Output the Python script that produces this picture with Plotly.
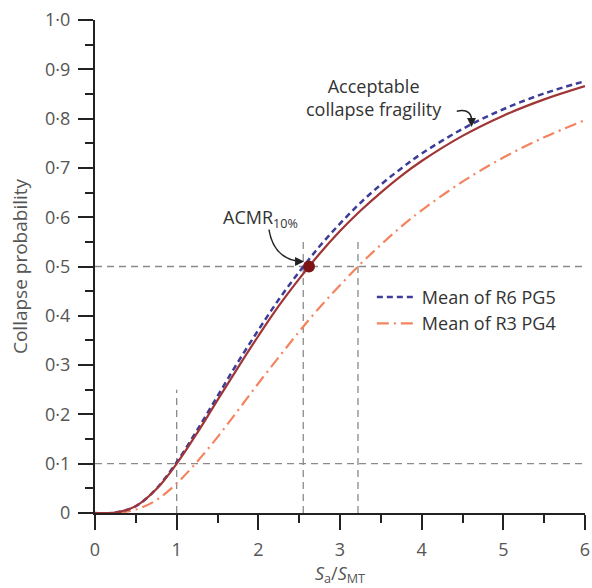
import plotly.graph_objects as go

# Data
x_vals = [0, 0.25, 0.5, 0.75, 1.0, 1.25, 1.5, 1.75, 2.0, 2.25, 2.5, 2.75, 3.0, 3.25, 3.5, 3.75, 4.0, 4.5, 5.0, 5.5, 6.0]
acceptable = [0, 0.001, 0.014, 0.048, 0.100, 0.162, 0.229, 0.295, 0.359, 0.420, 0.475, 0.526, 0.572, 0.613, 0.650, 0.684, 0.714, 0.765, 0.806, 0.839, 0.866]
r6_pg5 = [0, 0.001, 0.014, 0.049, 0.103, 0.168, 0.237, 0.306, 0.371, 0.433, 0.489, 0.541, 0.587, 0.629, 0.666, 0.699, 0.729, 0.779, 0.819, 0.851, 0.876]
r3_pg4 = [0, 0.000, 0.007, 0.026, 0.060, 0.104, 0.154, 0.208, 0.263, 0.316, 0.368, 0.417, 0.462, 0.505, 0.544, 0.581, 0.614, 0.672, 0.721, 0.762, 0.797]

acmr_x = [2.62]
acmr_y = [0.5]

ref_h = [0.1, 0.5]
ref_v_x = [1.0, 2.55, 3.22]
ref_v_top = [0.25, 0.555, 0.555]

y_ticks = [0, 0.1, 0.2, 0.3, 0.4, 0.5, 0.6, 0.7, 0.8, 0.9, 1.0]
y_ticktext = ["0", "0·1", "0·2", "0·3", "0·4", "0·5", "0·6", "0·7", "0·8", "0·9", "1·0"]
x_ticks = [0, 1, 2, 3, 4, 5, 6]
x_ticktext = ["0", "1", "2", "3", "4", "5", "6"]

FONT = "Open Sans"
GREY = "#555555"
REF = "#8a8a8a"

fig = go.Figure()

# reference dashed lines
for yv in ref_h:
    fig.add_trace(go.Scatter(x=[0, 6], y=[yv, yv], mode="lines", showlegend=False,
                             line=dict(color=REF, width=1.3, dash="7px,5px"), hoverinfo="skip"))
for xv, top in zip(ref_v_x, ref_v_top):
    fig.add_trace(go.Scatter(x=[xv, xv], y=[0, top], mode="lines", showlegend=False,
                             line=dict(color=REF, width=1.3, dash="7px,5px"), hoverinfo="skip"))

fig.add_trace(go.Scatter(x=x_vals, y=r3_pg4, mode="lines", name="Mean of R3 PG4",
                         line=dict(color="#f4845f", width=2.2, dash="12px,5px,2px,5px", shape="spline")))
fig.add_trace(go.Scatter(x=x_vals, y=r6_pg5, mode="lines", name="Mean of R6 PG5",
                         line=dict(color="#3d3d99", width=2.5, dash="6px,4px", shape="spline")))
fig.add_trace(go.Scatter(x=x_vals, y=acceptable, mode="lines", showlegend=False,
                         line=dict(color="#a03535", width=2.2, shape="spline")))
fig.add_trace(go.Scatter(x=acmr_x, y=acmr_y, mode="markers", showlegend=False,
                         marker=dict(color="#7d1214", size=12)))

# curved arrows
fig.add_shape(type="path", path="M 2.13,0.575 Q 2.19,0.515 2.52,0.51",
              line=dict(color="#222222", width=1.5))
fig.add_shape(type="path", path="M 4.43,0.815 Q 4.63,0.822 4.61,0.79",
              line=dict(color="#222222", width=1.5))
fig.add_annotation(x=2.56, y=0.51, ax=-8, ay=0, text="", showarrow=True, arrowhead=2,
                   arrowsize=1.2, arrowwidth=1.5, arrowcolor="#222222")
fig.add_annotation(x=4.61, y=0.783, ax=0, ay=-8, text="", showarrow=True, arrowhead=2,
                   arrowsize=1.2, arrowwidth=1.5, arrowcolor="#222222")

fig.add_annotation(x=2.03, y=0.598, text="ACMR<sub>10%</sub>", showarrow=False,
                   font=dict(family=FONT, size=18, color="#333333"))
fig.add_annotation(x=3.42, y=0.842, text="Acceptable<br>collapse fragility", showarrow=False,
                   font=dict(family=FONT, size=18, color="#333333"))

axis_common = dict(showline=True, linecolor="#222222", linewidth=2, ticks="outside",
                   ticklen=15, tickwidth=2, tickcolor="#222222", showgrid=False, zeroline=False,
                   automargin=False,
                   tickfont=dict(family=FONT, size=18, color=GREY))

fig.update_xaxes(range=[0, 6], tickvals=x_ticks, ticktext=x_ticktext, ticklabelstandoff=4,
                 minor=dict(ticks="outside", ticklen=8, tickwidth=2, tickcolor="#222222", dtick=0.5, tick0=0),
                 title=dict(text="<i>S</i><sub>a</sub>/<i>S</i><sub>MT</sub>", standoff=4,
                            font=dict(family=FONT, size=18, color=GREY)),
                 **axis_common)
fig.update_yaxes(range=[0, 1], tickvals=y_ticks, ticktext=y_ticktext, ticklabelstandoff=4,
                 minor=dict(ticks="outside", ticklen=8, tickwidth=2, tickcolor="#222222", dtick=0.05, tick0=0),
                 title=dict(text="Collapse probability", standoff=12,
                            font=dict(family=FONT, size=19, color=GREY)),
                 **axis_common)

fig.update_layout(width=592, height=588, margin=dict(l=95, r=7, t=20, b=75),
                  plot_bgcolor="white", paper_bgcolor="white",
                  legend=dict(x=0.565, y=0.475, xanchor="left", yanchor="top",
                              font=dict(family=FONT, size=18, color="#333333"),
                              traceorder="reversed", bgcolor="rgba(0,0,0,0)", itemwidth=40))

fig.write_html("out.html")
